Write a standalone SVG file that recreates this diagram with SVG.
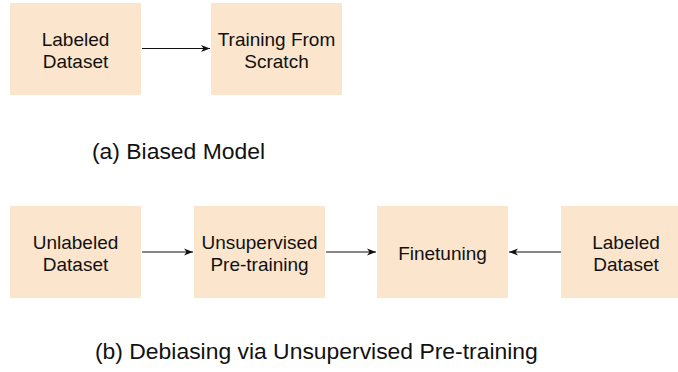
<svg xmlns="http://www.w3.org/2000/svg" width="678" height="372" viewBox="0 0 678 372">
<style>
.box{fill:#fbe5cd;stroke:none}
.t{font-family:"Liberation Sans",Arial,sans-serif;font-size:19px;fill:#111;text-anchor:middle}
.cap{font-family:"Liberation Sans",Arial,sans-serif;font-size:22.9px;fill:#111}
.c{stroke:#111;stroke-width:1.2;fill:none}
</style>
<defs>
<marker id="ah" markerWidth="10" markerHeight="8" refX="9" refY="4" orient="auto" markerUnits="userSpaceOnUse">
<path d="M0,0.5 L9,4 L0,7.5 L2.5,4 Z" fill="#111"/>
</marker>
</defs>
<rect width="678" height="372" fill="#fff"/>
<g id="connectors">
<line class="c" x1="142" y1="48.5" x2="210" y2="48.5" marker-end="url(#ah)"/>
<line class="c" x1="142" y1="252" x2="193" y2="252" marker-end="url(#ah)"/>
<line class="c" x1="326" y1="252" x2="376" y2="252" marker-end="url(#ah)"/>
<line class="c" x1="561" y1="252" x2="509" y2="252" marker-end="url(#ah)"/>
</g>
<g id="a-labeled">
<rect class="box" x="10" y="3" width="131" height="92"/>
<text class="t" x="75.5" y="46">Labeled</text>
<text class="t" x="75.5" y="68">Dataset</text>
</g>
<g id="a-training">
<rect class="box" x="211" y="3" width="131" height="92"/>
<text class="t" x="276.5" y="46">Training From</text>
<text class="t" x="276.5" y="68">Scratch</text>
</g>
<g id="b-unlabeled">
<rect class="box" x="10" y="206" width="131" height="92"/>
<text class="t" x="75.5" y="249">Unlabeled</text>
<text class="t" x="75.5" y="271">Dataset</text>
</g>
<g id="b-pretraining">
<rect class="box" x="194" y="206" width="131" height="92"/>
<text class="t" x="259.5" y="249">Unsupervised</text>
<text class="t" x="259.5" y="271">Pre-training</text>
</g>
<g id="b-finetuning">
<rect class="box" x="377" y="206" width="131" height="92"/>
<text class="t" x="442.5" y="260">Finetuning</text>
</g>
<g id="b-labeled">
<rect class="box" x="561" y="206" width="131" height="92"/>
<text class="t" x="626" y="249">Labeled</text>
<text class="t" x="626" y="271">Dataset</text>
</g>
<text class="cap" x="92" y="159">(a) Biased Model</text>
<text class="cap" x="95" y="359">(b) Debiasing via Unsupervised Pre-training</text>
</svg>
